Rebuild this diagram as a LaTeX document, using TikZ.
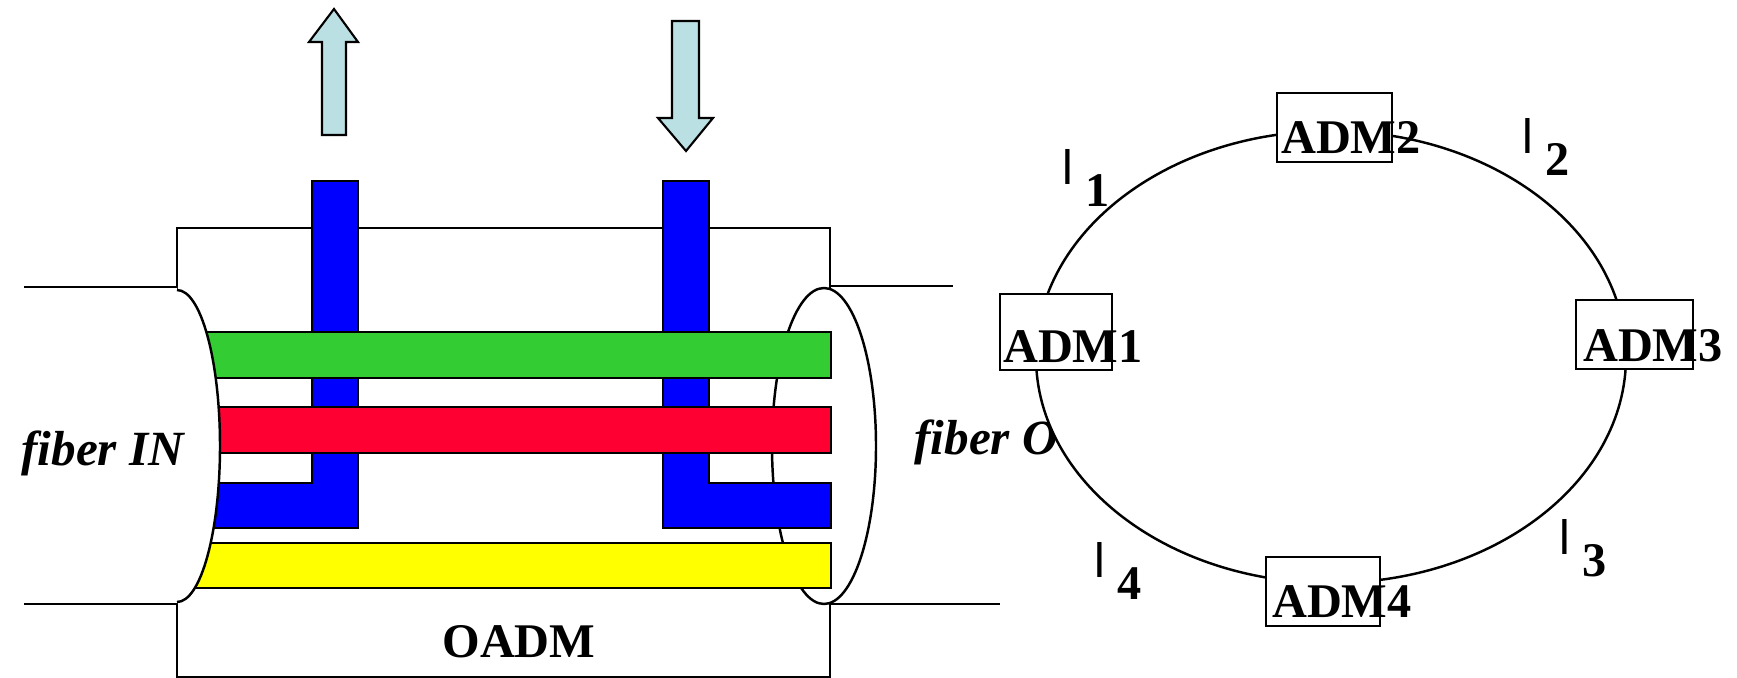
\documentclass[tikz,border=0pt]{standalone}
\usepackage{fontspec}
\setmainfont{Liberation Serif}
\newfontfamily\lamfont{Liberation Sans}
\definecolor{arrowblue}{HTML}{BBE0E3}
\definecolor{bandgreen}{HTML}{33CC33}
\definecolor{bandred}{HTML}{FF0033}
\definecolor{bandblue}{HTML}{0000FF}
\definecolor{bandyellow}{HTML}{FFFF00}
\newcommand{\lam}[1]{{\lamfont l}\hspace{2.4mm}\raisebox{-4.4mm}{\bfseries #1}}

\begin{document}
\begin{tikzpicture}[x=0.2mm, y=-0.2mm, font=\fontsize{27.5}{32}\selectfont,
    fiber/.style={line width=1.4pt},
    band/.style={draw, line width=1.4pt},
    updown/.style={draw, line width=1.2pt, fill=arrowblue},
    admbox/.style={draw, line width=1.4pt, fill=white, inner sep=0pt, minimum width=23mm, minimum height=13.8mm},
    admtext/.style={anchor=base west, inner sep=0pt, font=\fontsize{27.5}{32}\selectfont\bfseries},
    lamtext/.style={anchor=base west, inner sep=0pt},
    caption/.style={anchor=base west, inner sep=0pt, font=\fontsize{28}{32}\selectfont\bfseries\itshape}]
    \useasboundingbox (0,0) rectangle (1737,678);
    \draw[fiber] (177,228) rectangle (830,677);
    \draw[fiber] (830,286) -- (953,286);
    \draw[fiber] (830,604) -- (1000,604);
    \draw[fiber, fill=white] (824,446) ellipse [x radius=52, y radius=158];
    \draw[band, fill=bandblue] (185,483) -- (312,483) -- (312,181) -- (358,181) -- (358,528) -- (185,528) -- cycle;
    \draw[band, fill=bandblue] (663,181) -- (709,181) -- (709,483) -- (831,483) -- (831,528) -- (663,528) -- cycle;
    \draw[band, fill=bandgreen] (185,332) rectangle (831,378);
    \draw[band, fill=bandred] (185,407) rectangle (831,453);
    \draw[band, fill=bandyellow] (185,543) rectangle (831,588);
    \fill[white] (24,287) -- (177,287) -- (177,290) arc[start angle=-90, end angle=90, x radius=43, y radius=156] -- (177,604) -- (24,604) -- cycle;
    \draw[fiber] (24,287) -- (177,287);
    \draw[fiber] (24,604) -- (177,604);
    \draw[fiber] (177,290) arc[start angle=-90, end angle=90, x radius=43, y radius=156];
    \draw[updown] (334,9) -- (358,42) -- (346,42) -- (346,135) -- (322,135) -- (322,42) -- (309,42) -- cycle;
    \draw[updown] (672,21) -- (699,21) -- (699,118) -- (713,118) -- (686,151) -- (658,118) -- (672,118) -- cycle;
    \node[caption] (fiberin) at (21,465) {fiber IN};
    \node[caption] (fiberout) at (914,454) {fiber OUT};
    \node[anchor=base, inner sep=0pt, font=\fontsize{27.5}{32}\selectfont\bfseries] (oadm) at (519,657) {OADM};
    \draw[fiber, fill=white] (1331,357) ellipse [x radius=295, y radius=226];
    \node[admbox, minimum width=22.4mm, minimum height=15.2mm] (adm1) at (1056,332) {};
    \node[admbox] (adm2) at (1334.5,127.5) {};
    \node[admbox, minimum width=23.4mm] (adm3) at (1634.5,334.5) {};
    \node[admbox, minimum width=22.8mm] (adm4) at (1323,591.5) {};
    \node[admtext] (adm1txt) at ([shift={(4,-9)}]adm1.south west) {ADM1};
    \node[admtext] (adm2txt) at ([shift={(5,-10)}]adm2.south west) {ADM2};
    \node[admtext] (adm3txt) at ([shift={(8,-9)}]adm3.south west) {ADM3};
    \node[admtext] (adm4txt) at ([shift={(7,-10)}]adm4.south west) {ADM4};
    \node[lamtext] (lam1) at (1062,185) {\lam{1}};
    \node[lamtext] (lam2) at (1522,154) {\lam{2}};
    \node[lamtext] (lam3) at (1559,554) {\lam{3}};
    \node[lamtext] (lam4) at (1094,577) {\lam{4}};
\end{tikzpicture}
\end{document}
